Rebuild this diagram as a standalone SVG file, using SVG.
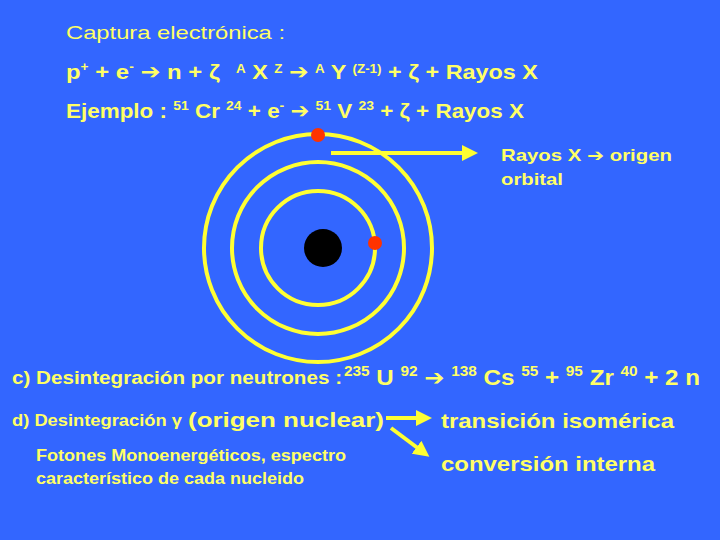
<svg xmlns="http://www.w3.org/2000/svg" width="720" height="540" viewBox="0 0 720 540">
<style>
.t{fill:#ffff66;font-family:"Liberation Sans",Arial,sans-serif;}
.b{font-weight:bold;}
.a{font-family:"DejaVu Sans",sans-serif;}
.ring{fill:none;stroke:#ffff33;stroke-width:4;}
.arr{stroke:#ffff33;stroke-width:4;fill:none;}
</style>
<defs>
<marker id="ah" markerWidth="4" markerHeight="4" refX="2" refY="2" orient="auto" markerUnits="strokeWidth"><path d="M0,0 L4,2 L0,4 Z" fill="#ffff33"/></marker>
</defs>
<rect width="720" height="540" fill="#3366ff"/>
<g id="header" class="t">
<text x="66" y="39" font-size="19" textLength="219" lengthAdjust="spacingAndGlyphs">Captura electrónica :</text>
<text x="66" y="79" font-size="21" class="b" textLength="154" lengthAdjust="spacingAndGlyphs">p<tspan dy="-8" font-size="12">+</tspan><tspan dy="8"> + e</tspan><tspan dy="-8" font-size="12">-</tspan><tspan dy="8"> </tspan><tspan class="a">➔</tspan> n + ζ</text>
<text x="236" y="79" font-size="21" class="b" textLength="302" lengthAdjust="spacingAndGlyphs"><tspan font-size="12" dy="-6">A</tspan><tspan dy="6"> X </tspan><tspan font-size="12" dy="-6">Z</tspan><tspan dy="6"> </tspan><tspan class="a">➔</tspan>  <tspan font-size="12" dy="-6">A</tspan><tspan dy="6"> Y </tspan><tspan font-size="12" dy="-6">(Z-1)</tspan><tspan dy="6"> + ζ + Rayos X</tspan></text>
<text x="66" y="118" font-size="21" class="b" textLength="458" lengthAdjust="spacingAndGlyphs">Ejemplo : <tspan font-size="13" dy="-8">51</tspan><tspan dy="8"> Cr </tspan><tspan font-size="13" dy="-8">24</tspan><tspan dy="8"> + e</tspan><tspan font-size="13" dy="-8">-</tspan><tspan dy="8"> </tspan><tspan class="a">➔</tspan> <tspan font-size="13" dy="-8">51</tspan><tspan dy="8"> V </tspan><tspan font-size="13" dy="-8">23</tspan><tspan dy="8"> + ζ + Rayos X</tspan></text>
</g>
<g id="atom">
<circle class="ring" cx="318" cy="248" r="114"/>
<circle class="ring" cx="318" cy="248" r="86"/>
<circle class="ring" cx="318" cy="248" r="57"/>
<circle cx="323" cy="248" r="19" fill="#000"/>
<circle cx="318" cy="135" r="7" fill="#ff3300"/>
<circle cx="375" cy="243" r="7" fill="#ff3300"/>
</g>
<g id="connectors">
<line class="arr" x1="331" y1="153" x2="470" y2="153" marker-end="url(#ah)"/>
<line class="arr" x1="386" y1="418" x2="424" y2="418" marker-end="url(#ah)"/>
<line class="arr" x1="391" y1="428" x2="423" y2="452" marker-end="url(#ah)"/>
</g>
<g id="rayos" class="t b" font-size="17">
<text x="501" y="161" textLength="171" lengthAdjust="spacingAndGlyphs">Rayos X <tspan class="a">➔</tspan> origen</text>
<text x="501" y="185" textLength="62" lengthAdjust="spacingAndGlyphs">orbital</text>
</g>
<g id="c" class="t b">
<text x="12" y="384" font-size="18" textLength="330" lengthAdjust="spacingAndGlyphs">c) Desintegración por neutrones :</text>
<text x="344" y="385" font-size="22" textLength="356" lengthAdjust="spacingAndGlyphs"><tspan font-size="14" dy="-9">235</tspan><tspan dy="9"> U </tspan><tspan font-size="14" dy="-9">92</tspan><tspan dy="9"> </tspan><tspan class="a">➔</tspan> <tspan font-size="14" dy="-9">138</tspan><tspan dy="9"> Cs </tspan><tspan font-size="14" dy="-9">55</tspan><tspan dy="9"> + </tspan><tspan font-size="14" dy="-9">95</tspan><tspan dy="9"> Zr </tspan><tspan font-size="14" dy="-9">40</tspan><tspan dy="9"> + 2 n</tspan></text>
</g>
<g id="d" class="t b">
<text x="12" y="426" font-size="17" textLength="170" lengthAdjust="spacingAndGlyphs">d) Desintegración γ</text>
<text x="188" y="427" font-size="21" textLength="196" lengthAdjust="spacingAndGlyphs">(origen nuclear)</text>
<text x="441" y="428" font-size="21" textLength="233" lengthAdjust="spacingAndGlyphs">transición isomérica</text>
<text x="441" y="471" font-size="21" textLength="214" lengthAdjust="spacingAndGlyphs">conversión interna</text>
<text x="36" y="461" font-size="16" textLength="310" lengthAdjust="spacingAndGlyphs">Fotones Monoenergéticos, espectro</text>
<text x="36" y="484" font-size="16" textLength="268" lengthAdjust="spacingAndGlyphs">característico de cada nucleido</text>
</g>
</svg>
